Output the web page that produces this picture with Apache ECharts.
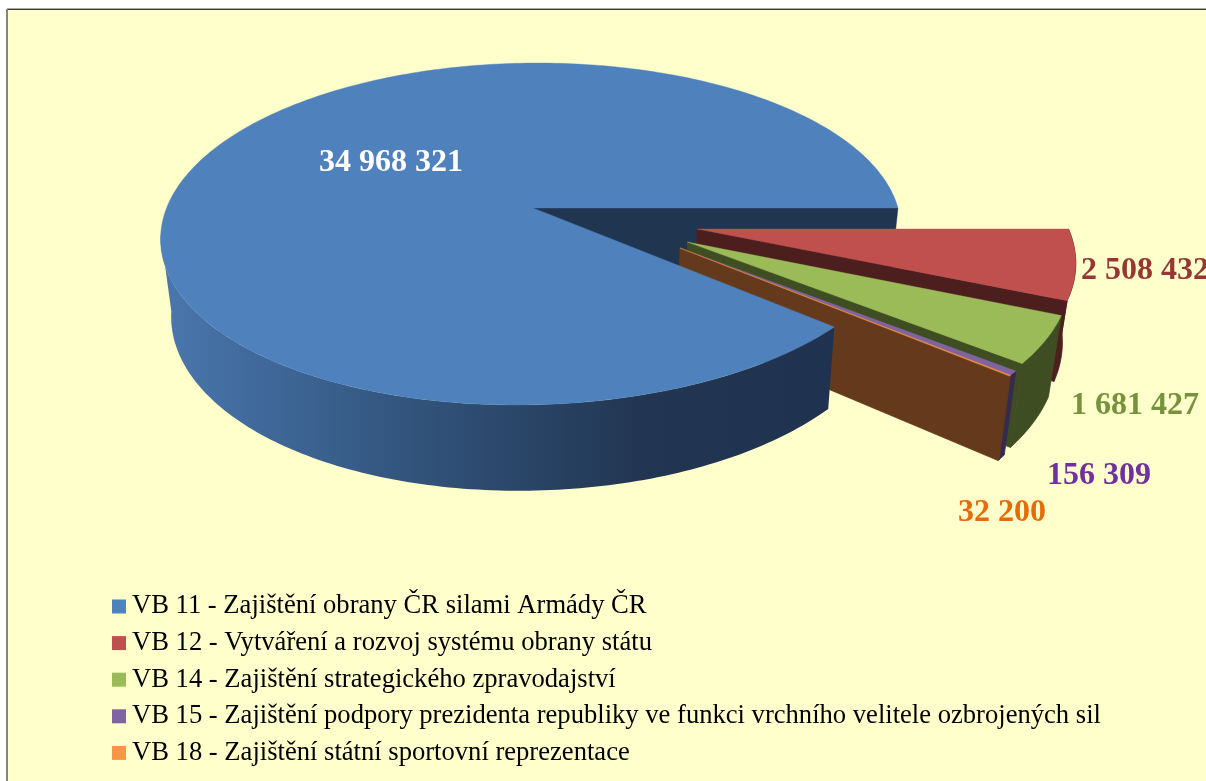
<!DOCTYPE html>
<html>
<head>
<meta charset="utf-8">
<style>html,body{margin:0;padding:0;background:#fff;overflow:hidden}#c{width:1206px;height:781px}</style>
<script src="https://cdn.jsdelivr.net/npm/echarts@6/dist/echarts.min.js"></script>
</head>
<body>
<div id="c"></div>
<script>
const categories = [
  'VB 11 - Zajištění obrany ČR silami Armády ČR',
  'VB 12 - Vytváření a rozvoj systému obrany státu',
  'VB 14 - Zajištění strategického zpravodajství',
  'VB 15 - Zajištění podpory prezidenta republiky ve funkci vrchního velitele ozbrojených sil',
  'VB 18 - Zajištění státní sportovní reprezentace'
];
const values = [34968321, 2508432, 1681427, 156309, 32200];
const topColors = ['#4F81BD', '#C0504D', '#9BBB59', '#8064A2', '#F79646'];
const wallColors = ['#1F3550', '#4C1E1E', '#3F4D22', '#352B4F', '#653A1C'];
const labelColors = ['#FFFFFF', '#953735', '#76923C', '#7030A0', '#E46C0A'];
const labelCentres = [[391,163],[1145,271],[1135,406],[1099,476],[1002,513]];
const explodeOffsets = [[0,0],[0.441,0.1235],[0.41,0.198],[0.388,0.2315],[0.388,0.2315]];

const total = values.reduce((s, v) => s + v, 0);
const sweeps = values.map(v => v / total * 2 * Math.PI);
const starts = [];
sweeps.reduce((acc, sw, i) => { starts[i] = acc; return acc + sw; }, 2 * Math.PI - sweeps[0]);

const P = {cx:533, cy:208, a:365.7, b:167, k:0.152, m:0.002, sk1:9.05, sk2:3.8, vx:630, cR:0.03, cL:0.0225, dy:76, e:0.05};
// off: exploded apex offset; (lu, lv): point on the unit disk relative to the apex
function proj(off, lu, lv, bottom) {
  const u = off[0] + lu, v = off[1] + lv;
  const s = 1 / (1 - P.k * v + P.m * u);
  const ls = lv * s;
  let x = P.cx + P.a * u * s - P.sk1 * ls - P.sk2 * ls * ls;
  let y = P.cy + P.b * v * s;
  if (bottom) {
    x += (P.vx - x) * (x < P.vx ? P.cL : P.cR);
    y += P.dy + P.e * (y - P.cy);
  }
  return [x, y];
}
function arc(off, from, to, bottom) {
  const n = Math.max(2, Math.ceil(Math.abs(to - from) / (Math.PI / 180)));
  const pts = [];
  for (let i = 0; i <= n; i++) {
    const t = from + (to - from) * i / n;
    pts.push(proj(off, Math.cos(t), Math.sin(t), bottom));
  }
  return pts;
}
function poly(points, fill, z2, lw) {
  return {type:'polygon', z2, shape:{points}, style:{fill, stroke:fill, lineWidth:lw}, silent:true};
}
const wallGradient = {type:'linear', x:0, y:0, x2:1, y2:0, colorStops:[
  {offset:0, color:'#4A77AE'},{offset:0.35, color:'#33567F'},{offset:0.71, color:'#223652'},{offset:1, color:'#1F3350'}]};

function renderSlice(i) {
  const off = explodeOffsets[i], s = starts[i], e = s + sweeps[i];
  const apexT = proj(off, 0, 0, false), apexB = proj(off, 0, 0, true);
  const endT = proj(off, Math.cos(e), Math.sin(e), false);
  const endB = proj(off, Math.cos(e), Math.sin(e), true);
  const kids = [];
  const txt = String(values[i]).replace(/\B(?=(\d{3})+$)/g, ' ');
  const textEl = {type:'text', z2:100, silent:true, x:labelCentres[i][0], y:labelCentres[i][1],
    style:{text:txt, fill:labelColors[i], font:'bold 32px "Liberation Serif"', align:'center', verticalAlign:'middle'}};
  if (i === 0) {
    const sT = proj(off, 1, 0, false), sB = proj(off, 1, 0, true);
    kids.push(poly([apexT, sT, sB, apexB], wallColors[0], 1, 0.4));
    const to = Math.PI - Math.asin(P.k);
    kids.push(poly(arc(off, s, to, false).concat(arc(off, to, s, true)), wallGradient, 50, 0));
    kids.push(poly([apexT].concat(arc(off, s, e, false)), topColors[0], 51, 0.4));
  } else {
    const z = 10 * i;
    kids.push(poly(arc(off, s, e, false).concat(arc(off, e, s, true)), wallColors[i], z, 0.8));
    kids.push(poly([apexT, endT, endB, apexB], wallColors[i], z + 1, 0.8));
    kids.push(poly([apexT].concat(arc(off, s, e, false)), topColors[i], z + 2, 0.4));
  }
  kids.push(textEl);
  return {type:'group', children:kids};
}

const chart = echarts.init(document.getElementById('c'), null, {renderer:'canvas'});
chart.setOption({
  animation:false,
  backgroundColor:'#FFFFFF',
  graphic:[
    {type:'rect', z:0, silent:true, shape:{x:7, y:9, width:1210, height:780}, style:{fill:'#FFFFCC'}},
    {type:'rect', z:0, silent:true, shape:{x:7, y:8, width:1210, height:1}, style:{fill:'#A8A8A0'}},
    {type:'rect', z:0, silent:true, shape:{x:7, y:9, width:1210, height:1}, style:{fill:'#3F3F30'}},
    {type:'rect', z:0, silent:true, shape:{x:6, y:9, width:2, height:780}, style:{fill:'#85857A'}}
  ],
  legend:{
    show:true, orient:'vertical', left:112, top:593, height:190, itemWidth:14, itemHeight:14, itemGap:9.6,
    icon:'rect', padding:0, selectedMode:false, data:categories,
    textStyle:{fontFamily:'Liberation Serif', fontSize:26.6, color:'#000', padding:[0,0,0,1]}
  },
  series:categories.map((name, i) => ({
    type:'custom', name, coordinateSystem:'none', silent:true, clip:false,
    itemStyle:{color:topColors[i]},
    data:[values[i]],
    renderItem:() => renderSlice(i)
  }))
});
</script>
</body>
</html>
